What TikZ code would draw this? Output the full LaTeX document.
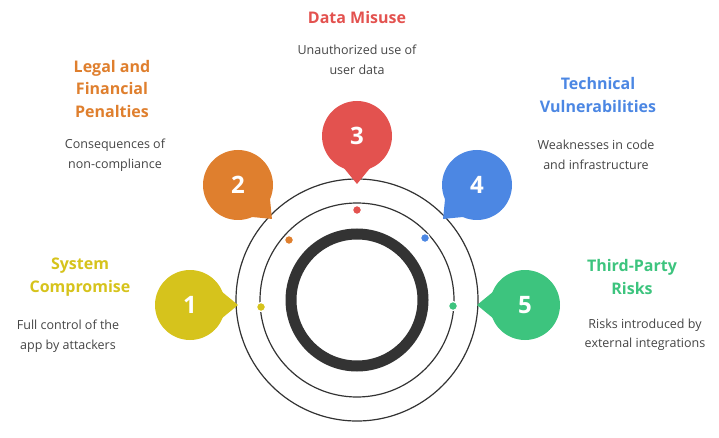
\documentclass[tikz,border=0pt]{standalone}
\usepackage{fontspec}
\setmainfont{Open Sans}
\usetikzlibrary{calc}
\definecolor{cy}{HTML}{D6C31C}
\definecolor{co}{HTML}{DF7F2E}
\definecolor{cr}{HTML}{E3524F}
\definecolor{cb}{HTML}{4C87E3}
\definecolor{cg}{HTML}{3DC47E}
\definecolor{ring}{HTML}{333333}
\definecolor{txt}{HTML}{444444}
\begin{document}
\begin{tikzpicture}[x=1pt,y=-1pt,
  ttl/.style={font=\fontsize{16}{22.5}\selectfont\bfseries,align=center},
  body/.style={font=\fontsize{12.5}{19.5}\selectfont,text=txt,align=center},
  num/.style={font=\fontsize{24}{24}\selectfont\bfseries,text=white},
  dot/.style={circle,fill=#1,draw=white,line width=1.2pt,inner sep=0,minimum size=9pt}]
\useasboundingbox (0,0) rectangle (719,438);
\coordinate (O) at (357,300);
\draw[ring,line width=1.2pt] (O) circle (121);
\draw[ring,line width=1.2pt] (O) circle (97);
\draw[ring,line width=11pt] (O) circle (66);
\foreach \n/\x/\y/\a/\c in {1/190/305/0/cy,2/238/185/45/co,3/357/136/90/cr,4/477/185/135/cb,5/525/305/180/cg}{
  \coordinate (b\n) at (\x,\y);
  \fill[\c] (b\n) circle (35);
  \fill[\c] ($(b\n)+(\a-28:33)$) -- ($(b\n)+(\a:48)$) -- ($(b\n)+(\a+28:33)$) -- cycle;
  \node[num] (n\n) at (b\n) {\n};
}
\node[dot=cy] (d1) at (261,307) {};
\node[dot=co] (d2) at (289,240) {};
\node[dot=cr] (d3) at (357,210) {};
\node[dot=cb] (d4) at (425,238) {};
\node[dot=cg] (d5) at (453,306) {};
\node[ttl,text=cy] (t1) at (80,277) {System\\Compromise};
\node[body] (s1) at (68,336) {Full control of the\\app by attackers};
\node[ttl,text=co] (t2) at (112,89) {Legal and\\Financial\\Penalties};
\node[body] (s2) at (115,155) {Consequences of\\non-compliance};
\node[ttl,text=cr] (t3) at (357,18) {Data Misuse};
\node[body] (s3) at (357,60) {Unauthorized use of\\user data};
\node[ttl,text=cb] (t4) at (598,95) {Technical\\Vulnerabilities};
\node[body] (s4) at (596,155) {Weaknesses in code\\and infrastructure};
\node[ttl,text=cg] (t5) at (632,277) {Third-Party\\Risks};
\node[body] (s5) at (645,335) {Risks introduced by\\external integrations};
\end{tikzpicture}
\end{document}
